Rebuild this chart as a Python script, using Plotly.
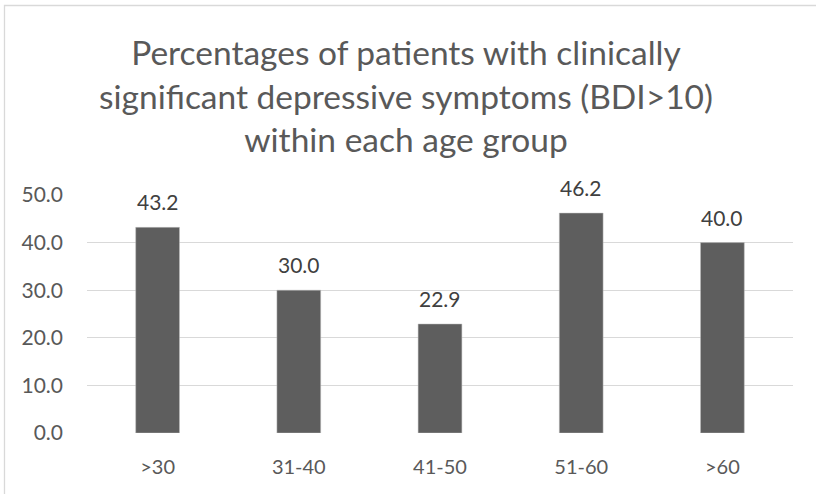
import plotly.graph_objects as go

categories = [">30", "31-40", "41-50", "51-60", ">60"]
values = [43.2, 30.0, 22.9, 46.2, 40.0]
title_lines = ["Percentages of patients with clinically",
               "significant depressive symptoms (BDI>10)",
               "within each age group"]
y_ticks = [0, 10, 20, 30, 40, 50]

W, H = 816, 494
L, R, T, B = 87, 23, 195, 61
pw, ph = W - L - R, H - T - B

def px_x(p):
    return (p - L) / pw

def px_y(p):
    return (H - B - p) / ph

fig = go.Figure()
fig.add_trace(go.Bar(
    x=categories, y=values, width=0.31,
    marker=dict(color="#5e5e5e", line=dict(color="#bfbfbf", width=0.5)),
    hoverinfo="skip",
))

annotations = []
for c, v in zip(categories, values):
    annotations.append(dict(
        x=c, y=v, xref="x", yref="y", text=f"{v:.1f}", showarrow=False,
        yanchor="bottom", yshift=11,
        font=dict(family="Lato", size=21, color="#404040"),
    ))

annotations.append(dict(
    text="<br>".join(title_lines), showarrow=False,
    xref="paper", yref="paper", x=px_x(406), y=px_y(96),
    xanchor="center", yanchor="middle", align="center",
    font=dict(family="Lato", size=33.5, color="#595959"),
))

fig.update_layout(
    width=W, height=H,
    margin=dict(l=L, r=R, t=T, b=B),
    paper_bgcolor="white", plot_bgcolor="white",
    showlegend=False,
    bargap=0.69,
    xaxis=dict(
        showgrid=False, showline=False, zeroline=False, ticks="",
        tickfont=dict(family="Lato", size=20, color="#595959"),
        ticklabelstandoff=20,
    ),
    yaxis=dict(
        range=[0, 50], tickvals=y_ticks, tickformat=".1f",
        showgrid=True, gridcolor="#d9d9d9", gridwidth=1.3,
        zeroline=False, showline=False, ticks="",
        tickfont=dict(family="Lato", size=21, color="#595959"),
        ticklabelstandoff=23,
    ),
    annotations=annotations,
    shapes=[dict(
        type="rect", xref="paper", yref="paper",
        x0=px_x(4.5), x1=px_x(840), y0=px_y(5.5), y1=px_y(520),
        line=dict(color="#d9d9d9", width=1.3), fillcolor="rgba(0,0,0,0)",
        layer="below",
    )],
)

fig.write_html("out.html", config={"displayModeBar": False},
               post_script="document.body.style.margin='0';")
